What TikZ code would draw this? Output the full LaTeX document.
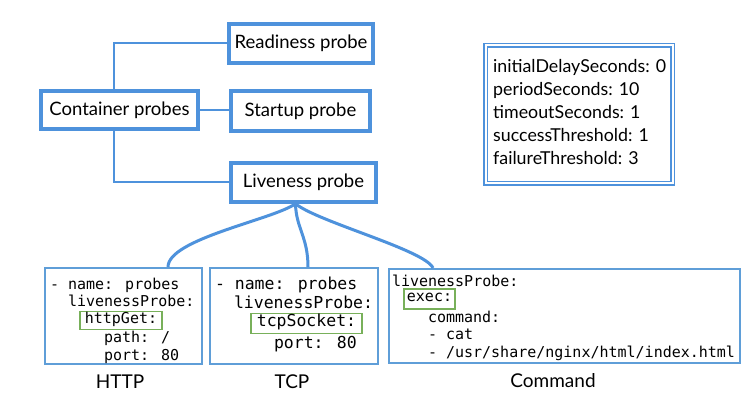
\documentclass[tikz,border=0pt]{standalone}
\usepackage{fontspec}
\setmainfont{Lato}
\newfontfamily\codefont{DejaVu Sans Mono}
\definecolor{pblue}{RGB}{78,146,220}
\definecolor{cblue}{RGB}{95,158,216}
\definecolor{hgreen}{RGB}{120,176,90}
\tikzset{
  mainbox/.style={draw=pblue, line width=3.5pt, fill=white, inner sep=0pt, font=\fontsize{18.5}{22}\selectfont},
  link/.style={draw=pblue, line width=2pt},
  branch/.style={draw=pblue, line width=3pt},
  codebox/.style={draw=cblue, line width=2pt, inner sep=0pt},
  codeline/.style={inner sep=0pt, outer sep=0pt, anchor=base west, font=\codefont\fontsize{15}{18}\selectfont},
  codelinebig/.style={codeline, font=\codefont\fontsize{16.5}{19}\selectfont},
  hlbox/.style={draw=hgreen, line width=1.5pt, inner sep=0pt, outer sep=0pt, text height=0.76em, text depth=0.24em},
  caption/.style={font=\fontsize{19}{22}\selectfont},
}
\begin{document}
\begin{tikzpicture}[x=1pt,y=-1pt]
\useasboundingbox[fill=white] (0,0) rectangle (753,409);

% main boxes
\node[mainbox, minimum width=144pt, minimum height=39pt] (ready) at (301,43.5) {Readiness probe};
\node[mainbox, minimum width=157pt, minimum height=38pt] (cont) at (119.5,110) {Container probes};
\node[mainbox, minimum width=139pt, minimum height=40pt] (start) at (300.5,111) {Startup probe};
\node[mainbox, minimum width=145pt, minimum height=39pt] (live) at (303.5,182.5) {Liveness probe};

\draw[link] ([xshift=-5.5pt]cont.north) |- (ready.west);
\draw[link] (cont.east) -- (cont.east -| start.west);
\draw[link] ([xshift=-5.5pt]cont.south) |- (live.west);

% parameters box
\node[draw=pblue, line width=1.5pt, double=white, double distance=2pt, minimum width=187pt, minimum height=138pt, inner sep=0pt] (params) at (579,114.5) {};
\node[anchor=west, align=left, inner sep=0pt, font=\fontsize{17.8}{23}\selectfont] (ptext) at (493,112) {initialDelaySeconds: 0\\periodSeconds: 10\\timeoutSeconds: 1\\successThreshold: 1\\failureThreshold: 3};

% code boxes
\node[codebox, minimum width=157pt, minimum height=96pt] (http) at (123.5,316) {};
\node[codebox, minimum width=168pt, minimum height=96pt] (tcp) at (294,316) {};
\node[codebox, minimum width=351pt, minimum height=94pt] (cmd) at (564.5,316) {};

% HTTP code
\node[codeline] (h1) at (50,289) {- name: probes};
\node[codeline] (h2) at (68,306.8) {livenessProbe:};
\node[hlbox, minimum width=82pt, minimum height=18pt, font=\codefont\fontsize{15}{18}\selectfont] (h3) at (121,320.5) {httpGet:};
\node[codeline] (h4) at (104,342.4) {path: /};
\node[codeline] (h5) at (104,360.2) {port: 80};

% TCP code
\node[codelinebig] (t1) at (215,289) {- name: probes};
\node[codelinebig] (t2) at (234,308) {livenessProbe:};
\node[hlbox, minimum width=111pt, minimum height=20pt, font=\codefont\fontsize{16.5}{19}\selectfont] (t3) at (306.5,323.5) {tcpSocket:};
\node[codelinebig] (t4) at (274,348) {port: 80};

% Command code
\node[codeline] (c1) at (392,286) {livenessProbe:};
\node[hlbox, minimum width=51pt, minimum height=20pt, font=\codefont\fontsize{15}{18}\selectfont] (c2) at (429.5,299) {exec:};
\node[codeline] (c3) at (428,322) {command:};
\node[codeline] (c4) at (428,339) {- cat};
\node[codeline] (c5) at (428,357) {- /usr/share/nginx/html/index.html};

% captions
\node[caption] (lhttp) at (120,382) {HTTP};
\node[caption] (ltcp) at (292,382) {TCP};
\node[caption] (lcmd) at (553,381) {Command};

% branches
\coordinate (lvb) at ([xshift=-8pt]live.south);
\draw[branch] (lvb) .. controls (272,220) and ([xshift=44.5pt,yshift=28pt]http.north) .. ([xshift=44.5pt]http.north);
\draw[branch] (lvb) .. controls (296,228) and ([xshift=14pt,yshift=30pt]tcp.north) .. ([xshift=14pt]tcp.north);
\draw[branch] (lvb) .. controls (318,222) and ([xshift=-139.5pt,yshift=18pt]cmd.north) .. ([xshift=-131.5pt]cmd.north);
\end{tikzpicture}
\end{document}
